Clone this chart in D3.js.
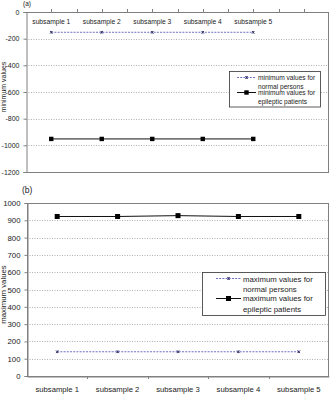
<!DOCTYPE html>
<html><head><meta charset="utf-8">
<script src="https://cdn.jsdelivr.net/npm/d3@7"></script>
<style>
body{margin:0;background:#fff;}
svg{display:block;font-family:"Liberation Sans",Arial,sans-serif;}
</style></head>
<body><svg id="c" width="333" height="398"></svg>
<script>
const categories = ["subsample 1","subsample 2","subsample 3","subsample 4","subsample 5"];
const minNormal = [-152,-152,-152,-152,-152];
const minEpileptic = [-952,-952,-952,-952,-952];
const maxNormal = [140,140,140,140,140];
const maxEpileptic = [922,922,927,922,922];
const minTicks = [0,-200,-400,-600,-800,-1000,-1200];
const maxTicks = [0,100,200,300,400,500,600,700,800,900,1000];

const svg = d3.select("#c");
const dashColor = "#6f6fc4";
const gridColor = "#9a9a9a";
const axisColor = "#808080";
const txt = "#222";
const fmt = d => String(d);

function drawAsterisk(g, x, y, s){
  g.append("path").attr("d",`M${x-s},${y-s}L${x+s},${y+s}M${x-s},${y+s}L${x+s},${y-s}M${x},${y-s}L${x},${y+s}`)
   .attr("stroke","#333366").attr("stroke-width",0.9).attr("fill","none");
}

// ---------- Chart (a) ----------
{
  const L=26,R=329,T=12,B=172;
  const band = d3.scaleBand().domain([...categories,""]).range([L,R]);
  const x = c => band(c)+band.bandwidth()/2;
  const y = d3.scaleLinear().domain([-1200,0]).range([B,T]);
  const g = svg.append("g");
  g.selectAll(".gr").data(minTicks.filter(t=>t!==0 && t!==-1200)).join("line")
    .attr("x1",L).attr("x2",R).attr("y1",d=>Math.round(y(d))+0.5).attr("y2",d=>Math.round(y(d))+0.5)
    .attr("stroke",gridColor).attr("stroke-width",0.8).attr("stroke-dasharray","1,1.5");
  g.append("line").attr("x1",R-0.5).attr("x2",R-0.5).attr("y1",T).attr("y2",B).attr("stroke",axisColor);
  g.append("line").attr("x1",L).attr("x2",R).attr("y1",B+0.5).attr("y2",B+0.5).attr("stroke",axisColor);
  const ya = g.append("g").attr("transform",`translate(${L+0.5},0)`)
    .call(d3.axisLeft(y).tickValues(minTicks).tickSize(3).tickFormat(fmt));
  ya.select(".domain").attr("stroke",axisColor);
  ya.selectAll(".tick line").attr("stroke",axisColor);
  ya.selectAll("text").attr("fill",txt).attr("font-size",7).attr("font-family","Liberation Sans, Arial").attr("dx",-1);
  const edges = [];
  band.domain().forEach(c=>{edges.push(band(c)); edges.push(band(c)+band.bandwidth()/2);});
  g.append("line").attr("x1",L).attr("x2",R).attr("y1",T+0.5).attr("y2",T+0.5).attr("stroke",axisColor);
  g.selectAll(".xt").data(edges.slice(1)).join("line")
    .attr("x1",d=>Math.round(d)+0.5).attr("x2",d=>Math.round(d)+0.5).attr("y1",T).attr("y2",T-3)
    .attr("stroke",axisColor);
  g.selectAll(".xl").data(categories).join("text")
    .attr("x",d=>x(d)).attr("y",T+12).attr("text-anchor","middle")
    .attr("font-size",6.7).attr("fill",txt).text(d=>d);
  const lineN = d3.line().x((d,i)=>x(categories[i])).y(d=>y(d));
  g.append("path").datum(minNormal).attr("d",lineN).attr("fill","none")
    .attr("stroke",dashColor).attr("stroke-width",1).attr("stroke-dasharray","2,1.2");
  minNormal.forEach((v,i)=>drawAsterisk(g,x(categories[i]),y(v),1.3));
  g.append("path").datum(minEpileptic).attr("d",lineN).attr("fill","none")
    .attr("stroke","#111").attr("stroke-width",1);
  g.selectAll(".me").data(minEpileptic).join("rect")
    .attr("x",(d,i)=>x(categories[i])-2.2).attr("y",d=>y(d)-2.2).attr("width",4.4).attr("height",4.4).attr("fill","#000");
  svg.append("text").attr("x",23).attr("y",6).attr("font-size",6.5).attr("fill",txt).text("(a)");
  svg.append("text").attr("transform",`translate(6,${(T+B)/2-5}) rotate(-90)`).attr("text-anchor","middle")
    .attr("font-size",7).attr("fill",txt).text("minimum values");
  const lg = svg.append("g");
  lg.append("rect").attr("x",229.5).attr("y",71.5).attr("width",91).attr("height",35.5)
    .attr("fill","#fff").attr("stroke","#333").attr("stroke-width",0.8);
  lg.append("line").attr("x1",237).attr("x2",256).attr("y1",77.5).attr("y2",77.5)
    .attr("stroke",dashColor).attr("stroke-dasharray","2,1.2");
  drawAsterisk(lg,246.5,77.5,1.3);
  lg.append("line").attr("x1",237).attr("x2",256).attr("y1",92.5).attr("y2",92.5).attr("stroke","#111");
  lg.append("rect").attr("x",244.3).attr("y",90.3).attr("width",4.4).attr("height",4.4).attr("fill","#000");
  const lt = [["minimum values for",80],["normal persons",89],["minimum values for",95],["epileptic patients",104]];
  lg.selectAll(".lt").data(lt).join("text").attr("x",258).attr("y",d=>d[1])
    .attr("font-size",6.6).attr("fill",txt).text(d=>d[0]);
}

// ---------- Chart (b) ----------
{
  const L=27,R=329,T=203,B=376;
  const band = d3.scaleBand().domain(categories).range([L,R]);
  const x = c => band(c)+band.bandwidth()/2;
  const y = d3.scaleLinear().domain([0,1000]).range([B,T]);
  const g = svg.append("g");
  g.selectAll(".gr").data(maxTicks.filter(t=>t!==0 && t!==1000)).join("line")
    .attr("x1",L).attr("x2",R).attr("y1",d=>Math.round(y(d))+0.5).attr("y2",d=>Math.round(y(d))+0.5)
    .attr("stroke",gridColor).attr("stroke-width",0.8).attr("stroke-dasharray","1,1.5");
  g.append("rect").attr("x",L+0.5).attr("y",T+0.5).attr("width",R-L-1).attr("height",B-T)
    .attr("fill","none").attr("stroke",axisColor);
  const ya = g.append("g").attr("transform",`translate(${L+0.5},0)`)
    .call(d3.axisLeft(y).tickValues(maxTicks).tickSize(3).tickFormat(fmt));
  ya.select(".domain").attr("stroke",axisColor);
  ya.selectAll(".tick line").attr("stroke",axisColor);
  ya.selectAll("text").attr("fill",txt).attr("font-size",7.8).attr("font-family","Liberation Sans, Arial").attr("dx",-1);
  const xa = g.append("g").attr("transform",`translate(0,${B+0.5})`)
    .call(d3.axisBottom(band).tickSize(0).tickPadding(10));
  xa.select(".domain").attr("stroke",axisColor);
  xa.selectAll("text").attr("fill",txt).attr("font-size",7.7).attr("font-family","Liberation Sans, Arial");
  g.selectAll(".xt").data(categories.slice(1)).join("line")
    .attr("x1",d=>Math.round(band(d))+0.5).attr("x2",d=>Math.round(band(d))+0.5).attr("y1",B).attr("y2",B+3)
    .attr("stroke",axisColor);
  const lineN = d3.line().x((d,i)=>x(categories[i])).y(d=>y(d));
  g.append("path").datum(maxNormal).attr("d",lineN).attr("fill","none")
    .attr("stroke",dashColor).attr("stroke-width",1).attr("stroke-dasharray","2,1.2");
  maxNormal.forEach((v,i)=>drawAsterisk(g,x(categories[i]),y(v),1.3));
  g.append("path").datum(maxEpileptic).attr("d",lineN).attr("fill","none")
    .attr("stroke","#111").attr("stroke-width",1);
  g.selectAll(".me").data(maxEpileptic).join("rect")
    .attr("x",(d,i)=>x(categories[i])-2.5).attr("y",d=>y(d)-2.5).attr("width",5).attr("height",5).attr("fill","#000");
  svg.append("text").attr("x",22).attr("y",193).attr("font-size",8.5).attr("fill",txt).text("(b)");
  svg.append("text").attr("transform",`translate(6,${(T+B)/2+5}) rotate(-90)`).attr("text-anchor","middle")
    .attr("font-size",7.8).attr("fill",txt).text("maximum values");
  const lg = svg.append("g");
  lg.append("rect").attr("x",202.5).attr("y",272.5).attr("width",123).attr("height",43)
    .attr("fill","#fff").attr("stroke","#333").attr("stroke-width",0.8);
  lg.append("line").attr("x1",216).attr("x2",241).attr("y1",278.5).attr("y2",278.5)
    .attr("stroke",dashColor).attr("stroke-dasharray","2,1.2");
  drawAsterisk(lg,228.5,278.5,1.3);
  lg.append("line").attr("x1",216).attr("x2",241).attr("y1",298.5).attr("y2",298.5).attr("stroke","#111");
  lg.append("rect").attr("x",226).attr("y",296).attr("width",5).attr("height",5).attr("fill","#000");
  const lt = [["maximum values for",281.5],["normal persons",291.5],["maximum values for",301],["epileptic patients",311.5]];
  lg.selectAll(".lt").data(lt).join("text").attr("x",243).attr("y",d=>d[1])
    .attr("font-size",7.8).attr("fill",txt).text(d=>d[0]);
}
</script></body></html>
